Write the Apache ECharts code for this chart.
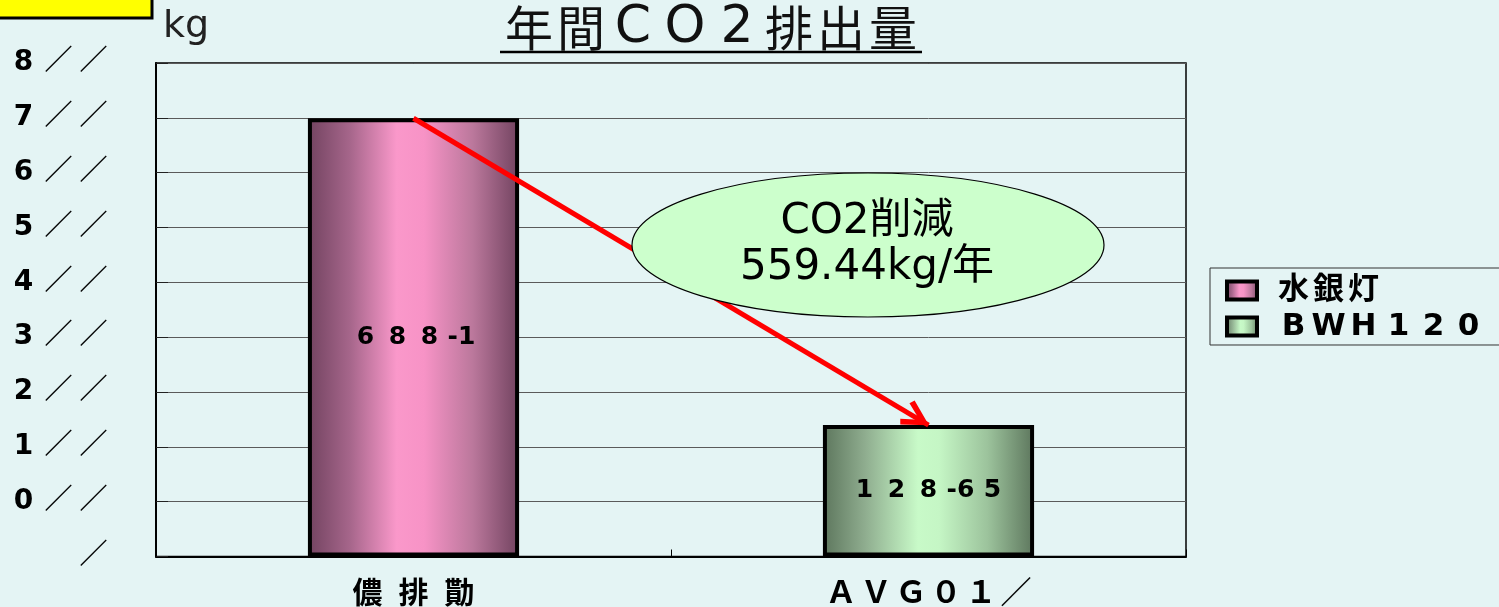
<!DOCTYPE html>
<html>
<head>
<meta charset="utf-8">
<script src="https://cdn.jsdelivr.net/npm/echarts@6/dist/echarts.min.js"></script>
<style>
html,body{margin:0;padding:0;background:#e4f4f4;}
#chart{width:1499px;height:607px;}
</style>
</head>
<body>
<div id="chart"></div>
<script>
// ---- data ----
const categories = ['儂排勩', 'ＡＶＧ０１／'];
const seriesNames = ['水銀灯', 'BWH120'];
const mercuryValues = [799.2, null];
const bwhValues = [null, 239.76];
const barLabels = ['688-1', '128-65'];
const yTickLabels = ['／', '0／／', '1／／', '2／／', '3／／', '4／／', '5／／', '6／／', '7／／', '8／／'];
const yMin = 0, yMax = 900, yInterval = 100;
const titleText = '年間CO2排出量';
const unitText = 'kg';
const noteLines = ['CO2削減', '559.44kg/年'];

// ---- helpers ----
const CJK = "'Noto Sans CJK JP'";
const LAT = "'DejaVu Sans', 'Noto Sans CJK JP'";
function cells(str, key) {
  return (str.match(/-?./gu) || []).map(function (c) { return '{' + key + '|' + c + '}'; }).join('');
}
function titleCells(str) {
  return Array.from(str).map(function (c) {
    return '{' + (/[A-Za-z0-9]/.test(c) ? 'tl' : 'tc') + '|' + c + '}';
  }).join('');
}

const pinkGrad = new echarts.graphic.LinearGradient(0, 0, 1, 0, [
  {offset: 0, color: '#724360'},
  {offset: 0.2, color: '#a6668b'},
  {offset: 0.42, color: '#fa98ca'},
  {offset: 0.55, color: '#f793c6'},
  {offset: 0.78, color: '#bb789c'},
  {offset: 1, color: '#724360'}
]);
const greenGrad = new echarts.graphic.LinearGradient(0, 0, 1, 0, [
  {offset: 0, color: '#5d765d'},
  {offset: 0.2, color: '#8fad8f'},
  {offset: 0.45, color: '#c8fac8'},
  {offset: 0.55, color: '#c5f6c5'},
  {offset: 0.78, color: '#9cc39c'},
  {offset: 1, color: '#5d765d'}
]);

const arrowPath = 'path://M0,-27 L0.01,-27 L0,-26.99 Z M0,0 L14,25 L9,28 L0,11 L-9,28 L-14,25 Z';

const chart = echarts.init(document.getElementById('chart'));
chart.setOption({
  animation: false,
  backgroundColor: '#e4f4f4',
  title: {
    text: titleCells(titleText),
    left: 503,
    top: 0,
    padding: 0,
    textStyle: {
      fontWeight: 'normal',
      rich: {
        tc: {width: 52, align: 'center', fontSize: 48, fontWeight: 'normal', fontFamily: CJK, color: '#111', lineHeight: 56},
        tl: {width: 52, align: 'center', fontSize: 52, fontWeight: 'normal', fontFamily: "'DejaVu Sans'", color: '#111', lineHeight: 56}
      }
    }
  },
  legend: {
    orient: 'vertical',
    left: 1210,
    top: 268,
    padding: [7, 20, 3, 15],
    borderColor: '#333',
    borderWidth: 1,
    itemGap: 5,
    itemWidth: 30,
    itemHeight: 18,
    icon: 'rect',
    data: seriesNames,
    itemStyle: {borderColor: '#000', borderWidth: 4},
    formatter: function (name) { return '{sp| }' + cells(name, 'lg'); },
    textStyle: {
      fontSize: 30,
      rich: {
        sp: {width: 14, align: 'center', fontSize: 30, lineHeight: 34},
        lg: {width: 35, align: 'center', fontSize: 31, fontWeight: 'bold', fontFamily: LAT, color: '#000', lineHeight: 34}
      }
    }
  },
  grid: {
    left: 156, right: 313, top: 63, bottom: 50,
    show: true, borderColor: '#000', borderWidth: 1.5, backgroundColor: 'transparent'
  },
  xAxis: {
    type: 'category',
    data: categories,
    axisLine: {lineStyle: {color: '#000', width: 2}},
    axisTick: {show: true, inside: true, length: 7, alignWithLabel: false, lineStyle: {color: '#000', width: 1}},
    axisLabel: {
      margin: 18,
      formatter: function (v, i) { return cells(v, i === 0 ? 'xa' : 'xb'); },
      rich: {
        xa: {width: 46, align: 'center', fontSize: 30, fontWeight: 'bold', fontFamily: CJK, color: '#000', lineHeight: 34},
        xb: {width: 35, align: 'center', fontSize: 31, fontWeight: 'bold', fontFamily: CJK, color: '#000', lineHeight: 34}
      }
    },
    splitLine: {show: false}
  },
  yAxis: {
    type: 'value',
    min: yMin, max: yMax, interval: yInterval,
    name: unitText,
    nameLocation: 'end',
    nameGap: 36,
    nameTextStyle: {fontSize: 38, fontFamily: "'DejaVu Sans'", color: '#222', align: 'left', verticalAlign: 'middle', padding: [0, 0, 0, 7]},
    axisLine: {show: true, lineStyle: {color: '#000', width: 2}},
    axisTick: {show: true, inside: true, length: 12, lineStyle: {color: '#222', width: 1}},
    splitLine: {show: true, lineStyle: {color: '#5a5a5a', width: 1}},
    axisLabel: {
      margin: 45,
      formatter: function (v) { return cells(yTickLabels[Math.round((v - yMin) / yInterval)] || '', 'yl'); },
      rich: {
        yl: {width: 35, align: 'center', fontSize: 28, fontWeight: 'bold', fontFamily: LAT, color: '#000', lineHeight: 34}
      }
    }
  },
  series: [
    {
      name: seriesNames[0],
      type: 'bar',
      data: mercuryValues,
      barWidth: '41%',
      barGap: '-100%',
      itemStyle: {color: pinkGrad, borderColor: '#000', borderWidth: 4},
      label: {
        show: true, position: 'inside',
        formatter: function (p) { return cells(barLabels[p.dataIndex], 'bl'); },
        rich: {bl: {width: 32, align: 'center', fontSize: 25, fontWeight: 'bold', fontFamily: LAT, color: '#000'}}
      }
    },
    {
      name: seriesNames[1],
      type: 'bar',
      data: bwhValues,
      barWidth: '41%',
      barGap: '-100%',
      itemStyle: {color: greenGrad, borderColor: '#000', borderWidth: 4},
      label: {
        show: true, position: 'inside',
        formatter: function (p) { return cells(barLabels[p.dataIndex], 'bl'); },
        rich: {bl: {width: 32, align: 'center', fontSize: 25, fontWeight: 'bold', fontFamily: LAT, color: '#000'}}
      },
      markLine: {
        silent: true,
        symbol: ['none', arrowPath],
        symbolSize: [28, 55],
        label: {show: false},
        lineStyle: {color: '#ff0000', width: 5, type: 'solid'},
        itemStyle: {color: '#ff0000'},
        data: [[
          {coord: [categories[0], mercuryValues[0]]},
          {coord: [categories[1], bwhValues[1]]}
        ]]
      }
    }
  ],
  graphic: [
    {
      type: 'rect', z: 100,
      shape: {x: -10, y: -30, width: 162, height: 48},
      style: {fill: '#ffff00', stroke: '#000', lineWidth: 3}
    },
    {
      type: 'line', z: 100,
      shape: {x1: 500, y1: 52, x2: 922, y2: 52},
      style: {stroke: '#000', lineWidth: 2.5}
    },
    {
      type: 'ellipse', z: 100,
      shape: {cx: 868, cy: 245, rx: 236, ry: 72},
      style: {fill: '#ccffcc', stroke: '#000', lineWidth: 1.2}
    },
    {
      type: 'text', z: 101,
      x: 867, y: 245,
      style: {
        text: noteLines.join('\n'),
        align: 'center', verticalAlign: 'middle',
        fontSize: 42, fontFamily: "'DejaVu Sans', 'Noto Sans CJK JP'",
        lineHeight: 46, fill: '#000'
      }
    }
  ]
});
</script>
</body>
</html>
